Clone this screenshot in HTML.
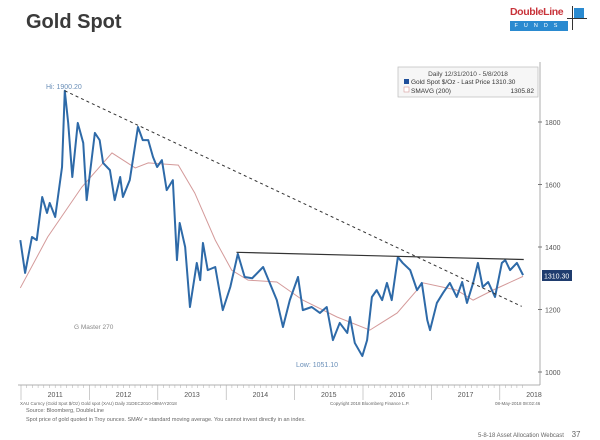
<!DOCTYPE html>
<html><head><meta charset="utf-8"><style>
html,body{margin:0;padding:0;background:#fff;}
body{width:600px;height:440px;overflow:hidden;position:relative;font-family:"Liberation Sans",sans-serif;}
</style></head><body>
<div style="position:absolute;left:26px;top:11px;font-size:20px;font-weight:bold;color:#3a3a3a;">Gold Spot</div>
<div style="position:absolute;left:509px;top:6px;width:80px;height:30px;">
 <div style="position:absolute;left:1px;top:0;font-size:10.5px;font-weight:bold;color:#c8333a;letter-spacing:-0.4px;">DoubleLine</div>
 <div style="position:absolute;left:1px;top:15px;width:58px;height:10px;background:#2a8ad0;color:#fff;font-size:5.5px;letter-spacing:6px;text-align:center;line-height:10px;">FUNDS</div>
 <div style="position:absolute;left:65px;top:2px;width:10px;height:10px;background:#2a8ad0;"></div>
 <div style="position:absolute;left:63px;top:0;width:1px;height:24px;background:#333;"></div>
 <div style="position:absolute;left:58px;top:12px;width:20px;height:1px;background:#333;"></div>
</div>
<svg id="chart" width="600" height="440" style="position:absolute;left:0;top:0;font-family:'Liberation Sans',sans-serif;"></svg>
<div style="position:absolute;left:26px;top:408px;font-size:5.5px;color:#666;">Source: Bloomberg, DoubleLine</div>
<div style="position:absolute;left:26px;top:417px;font-size:5.5px;color:#666;">Spot price of gold quoted in Troy ounces. SMAV = standard moving average. You cannot invest directly in an index.</div>
<div style="position:absolute;left:478px;top:430px;font-size:6px;color:#666;">5-8-18 Asset Allocation Webcast <span style="font-size:8px;margin-left:6px;">37</span></div>
<script>
const years=[2011,2012,2013,2014,2015,2016,2017,2018];
const yTicks=[1000,1200,1400,1600,1800];
const goldDates=[2010.99,2011.06,2011.16,2011.23,2011.31,2011.38,2011.42,2011.50,2011.60,2011.64,2011.69,2011.75,2011.83,2011.91,2011.96,2012.08,2012.15,2012.20,2012.30,2012.37,2012.45,2012.49,2012.59,2012.71,2012.78,2012.86,2012.93,2012.99,2013.06,2013.13,2013.22,2013.28,2013.32,2013.40,2013.47,2013.57,2013.62,2013.66,2013.73,2013.84,2013.95,2014.06,2014.17,2014.27,2014.38,2014.54,2014.74,2014.83,2014.93,2015.05,2015.12,2015.25,2015.37,2015.47,2015.56,2015.66,2015.77,2015.81,2015.88,2015.99,2016.06,2016.13,2016.20,2016.28,2016.35,2016.42,2016.51,2016.58,2016.69,2016.79,2016.86,2016.94,2016.98,2017.08,2017.17,2017.27,2017.37,2017.45,2017.52,2017.61,2017.68,2017.75,2017.83,2017.93,2018.03,2018.08,2018.15,2018.25,2018.34];
const goldVals=[1422,1317,1432,1422,1560,1509,1541,1496,1656,1900,1797,1624,1797,1733,1550,1765,1742,1669,1646,1550,1624,1560,1614,1784,1742,1742,1688,1656,1678,1582,1614,1358,1477,1400,1208,1349,1294,1413,1326,1336,1198,1272,1378,1304,1300,1336,1230,1144,1230,1304,1198,1208,1189,1208,1102,1157,1125,1176,1093,1051,1102,1240,1262,1230,1285,1230,1368,1349,1326,1262,1285,1166,1134,1221,1253,1285,1240,1288,1221,1285,1349,1272,1288,1240,1349,1358,1326,1349,1310];
const smaDates=[2010.99,2011.39,2011.89,2012.33,2012.67,2012.86,2013.30,2013.54,2013.84,2014.08,2014.32,2014.74,2015.12,2015.62,2016.10,2016.50,2016.88,2017.37,2017.61,2017.90,2018.34];
const smaVals=[1269,1432,1592,1701,1653,1669,1662,1573,1422,1326,1294,1288,1230,1176,1134,1189,1285,1262,1230,1262,1306];
const x=t=>21+(t-2011)*68.4;
const y=p=>372-(p-1000)*0.3125;
const svg=document.getElementById('chart');const NS='http://www.w3.org/2000/svg';
function mk(tag,a,par){const e=document.createElementNS(NS,tag);for(const k in a)e.setAttribute(k,a[k]);(par||svg).appendChild(e);return e;}
let e=mk('line',{x1:540,y1:62,x2:540,y2:385,stroke:'#999','stroke-width':0.8});

e=mk('line',{x1:18,y1:385,x2:540,y2:385,stroke:'#999','stroke-width':0.8});

yTicks.forEach(v=>{mk('line',{x1:538,x2:542,y1:y(v),y2:y(v),stroke:'#777'});
 const t=mk('text',{x:545,y:y(v)+3,'font-size':7,fill:'#555'});t.textContent=v;
 });
for(let m=0;m<89;m++){const t=2011+m/12;mk('line',{x1:x(t),x2:x(t),y1:385,y2:m%12==0?400:388,stroke:'#aaa','stroke-width':m%12==0?0.6:0.5});}
years.forEach(yr=>{const t=mk('text',{x:x(yr+0.5),y:397,'font-size':7,fill:'#555','text-anchor':'middle'});t.textContent=yr;
 });
e=mk('polyline',{points:smaDates.map((d,i)=>x(d)+','+y(smaVals[i])).join(' '),fill:'none',stroke:'#d49a9a','stroke-width':1});

e=mk('polyline',{points:goldDates.map((d,i)=>x(d)+','+y(goldVals[i])).join(' '),fill:'none',stroke:'#2e6aa8','stroke-width':2,'stroke-linejoin':'round'});

e=mk('line',{x1:x(2011.64),y1:y(1900),x2:x(2018.32),y2:y(1210),stroke:'#333','stroke-width':1,'stroke-dasharray':'3,3'});

e=mk('line',{x1:x(2014.15),y1:y(1383),x2:x(2018.35),y2:y(1360),stroke:'#333','stroke-width':1.2});

function txt(s,xx,yy,sz,col,name){const t=mk('text',{x:xx,y:yy,'font-size':sz,fill:col});t.textContent=s;}
txt('Hi: 1900.20',46,89,7,'#6a8fb8','high-annotation');
txt('Low: 1051.10',296,367,7,'#6a8fb8','low-annotation');
txt('G Master 270',74,329,6.5,'#888','g-master-label');
txt('XAU Curncy (Gold Spot $/Oz) Gold spot (XAU) Daily 31DEC2010-08MAY2018',20,405,4.5,'#666','bloomberg-source');
txt('Copyright 2018 Bloomberg Finance L.P.',330,405,4.5,'#666','copyright');
txt('08-May-2018 08:02:46',495,405,4.5,'#666','timestamp');
e=mk('rect',{x:542,y:270,width:30,height:11,fill:'#1f3c6e'});

txt('1310.30',544,278.5,7,'#fff','last-price-value');
const g=mk('g',{});
mk('rect',{x:398,y:67,width:140,height:30,fill:'#f6f6f6',stroke:'#bbb','stroke-width':0.7},g);
let t=mk('text',{x:468,y:76,'font-size':6.5,fill:'#444','text-anchor':'middle'},g);t.textContent='Daily 12/31/2010 - 5/8/2018';
mk('rect',{x:404,y:79,width:5,height:5,fill:'#1f4f9a'},g);
t=mk('text',{x:411,y:84,'font-size':6.5,fill:'#333'},g);t.textContent='Gold Spot $/Oz - Last Price 1310.30';
mk('rect',{x:404,y:87,width:5,height:5,fill:'#fff',stroke:'#d49a9a','stroke-width':0.6},g);
t=mk('text',{x:411,y:93,'font-size':6.5,fill:'#333'},g);t.textContent='SMAVG (200)';
t=mk('text',{x:534,y:93,'font-size':6.5,fill:'#333','text-anchor':'end'},g);t.textContent='1305.82';
</script>
</body></html>
